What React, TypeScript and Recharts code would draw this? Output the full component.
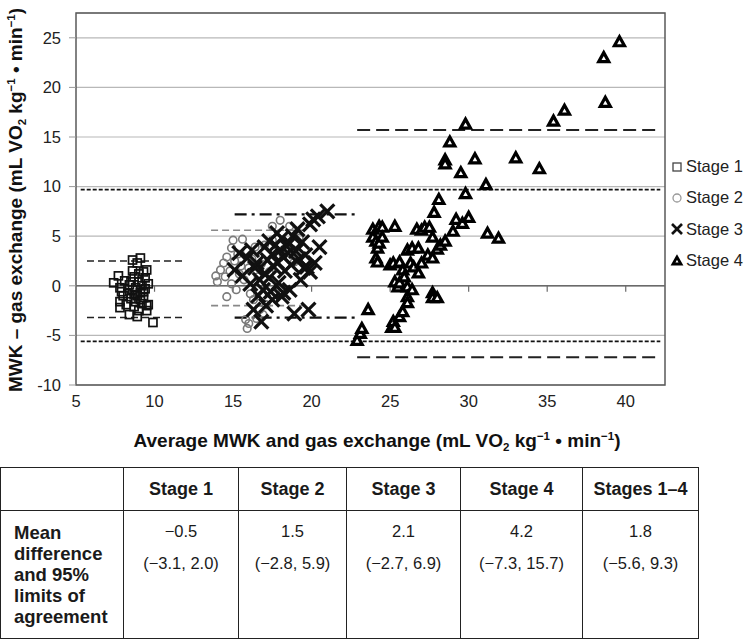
import React from "react";
import {
  ScatterChart,
  Scatter,
  XAxis,
  YAxis,
  CartesianGrid,
  ReferenceLine,
  ReferenceArea,
} from "recharts";

// --- data ---
const stage1 = [
  [7.4, 0.3], [7.7, 1.0], [7.8, -0.2], [7.9, -0.6], [7.8, -1.6], [7.8, -2.2], [8.0, -1.0], [8.1, 0.5],
  [8.2, -1.9], [8.3, -0.8], [8.4, -2.9], [8.4, 0.1], [8.5, -1.3], [8.6, 2.6], [8.6, 1.5], [8.6, -0.4],
  [8.7, -2.1], [8.7, 0.9], [8.8, -1.6], [8.8, -0.2], [8.9, 2.3], [8.9, -3.1], [8.9, -1.0], [9.0, 0.4],
  [9.0, -2.5], [9.0, 1.2], [9.1, 2.8], [9.1, -0.7], [9.2, -1.8], [9.2, 0.0], [9.3, 1.4], [9.3, -1.2],
  [9.4, -0.3], [9.4, 0.8], [9.5, 1.6], [9.5, -2.0], [9.6, -1.9], [9.6, 0.2], [9.9, -3.7], [9.5, -2.5],
  [8.7, -0.9], [9.1, -1.4], [8.5, 0.4], [9.3, -0.6],
].map(([x, y]) => ({ x, y }));

const stage2 = [
  [13.9, 1.0], [14.0, 0.4], [14.2, 1.6], [14.4, 2.3], [14.5, 0.9], [14.6, 2.9], [14.6, -1.1], [14.8, 1.5],
  [14.9, 3.8], [14.9, 0.2], [15.0, 4.6], [15.1, 2.5], [15.2, -0.4], [15.3, 3.2], [15.4, 1.2], [15.5, 2.0],
  [15.6, 4.7], [15.7, 0.6], [15.8, -3.4], [15.9, -4.3], [15.9, 3.5], [16.0, 1.8], [16.1, -0.8], [16.2, 2.7],
  [16.3, -1.4], [16.4, 3.9], [16.5, -3.3], [16.6, 0.9], [16.7, -2.4], [16.8, 2.2], [17.0, 4.1], [17.1, -1.9],
  [17.3, 1.4], [17.5, 6.0], [17.5, 4.6], [17.7, -0.6], [18.0, 6.6], [18.2, 3.1], [18.6, 6.0], [18.9, 2.4],
  [19.2, 4.8], [16.9, -2.9], [16.0, -3.8],
].map(([x, y]) => ({ x, y }));

const stage3 = [
  [15.1, 1.6], [15.4, 3.3], [15.6, 1.0], [15.9, 2.8], [16.1, 0.2], [16.2, 3.6], [16.3, -2.4], [16.4, 1.8],
  [16.5, 2.3], [16.6, -1.0], [16.7, 0.6], [16.8, -3.6], [16.9, -0.4], [17.0, 3.9], [17.0, 1.2], [17.1, -2.0],
  [17.2, 2.6], [17.3, 0.8], [17.3, 4.5], [17.4, -0.6], [17.5, -1.4], [17.5, 3.2], [17.6, 1.9], [17.7, 4.1],
  [17.8, 5.3], [17.8, 2.4], [17.9, 0.3], [18.0, 3.6], [18.1, -1.1], [18.1, 4.8], [18.2, -0.7], [18.2, 2.9],
  [18.3, 1.5], [18.4, 4.0], [18.5, 3.3], [18.6, -0.4], [18.6, 4.3], [18.7, 2.1], [18.8, 5.0], [18.9, -2.8],
  [19.0, 3.5], [19.1, 5.7], [19.2, 2.7], [19.3, 0.6], [19.4, 4.4], [19.5, 1.8], [19.6, 3.1], [19.7, 1.9],
  [19.8, -2.4], [19.9, 1.4], [19.9, 6.2], [20.1, 6.7], [20.2, 2.3], [20.4, 7.0], [20.5, 3.9], [21.0, 7.5],
].map(([x, y]) => ({ x, y }));

const stage4 = [
  [22.9, -5.5], [23.1, -4.8], [23.2, -4.3], [23.6, -2.4], [23.9, 5.7], [23.9, 4.9], [24.1, 4.5], [24.1, 2.8],
  [24.2, 3.8], [24.2, 2.4], [24.3, 6.0], [24.3, 4.3], [24.5, 5.9], [24.5, 4.9], [25.0, 2.1], [25.1, -4.2],
  [25.2, 2.3], [25.2, -3.6], [25.3, 6.0], [25.3, 0.4], [25.3, -4.2], [25.5, -0.1], [25.6, 2.4], [25.6, 0.3],
  [25.6, -3.1], [25.8, 1.6], [25.8, -2.6], [25.9, 0.9], [26.1, 3.6], [26.1, -0.1], [26.1, -1.1], [26.1, -1.7],
  [26.3, 2.3], [26.4, 3.8], [26.4, -0.4], [26.5, 1.9], [26.7, 5.7], [26.8, 3.8], [26.8, 1.3], [27.0, 5.6],
  [27.0, 2.3], [27.2, 5.9], [27.4, 3.1], [27.5, 5.9], [27.7, 4.9], [27.7, 2.8], [27.7, -0.7], [27.7, -1.2],
  [27.8, 7.4], [28.0, 3.7], [28.0, -1.2], [28.1, 8.7], [28.2, 4.1], [28.5, 4.5], [28.5, 12.7], [28.5, 12.3],
  [28.8, 14.5], [29.0, 5.5], [29.2, 6.7], [29.5, 11.4], [29.6, 6.3], [29.8, 16.3], [29.8, 9.3], [30.0, 6.9],
  [30.4, 12.8], [31.1, 10.2], [31.2, 5.3], [31.9, 4.8], [33.0, 12.9], [34.5, 11.8], [35.4, 16.6], [36.1, 17.7],
  [38.6, 23.0], [38.7, 18.5], [39.6, 24.6],
].map(([x, y]) => ({ x, y }));

const xTicks = [5, 10, 15, 20, 25, 30, 35, 40];
const yTicks = [-10, -5, 0, 5, 10, 15, 20, 25];

// limits of agreement drawn on the plot (overall, stage 1..4)
const limitNames = ["Stages 1–4", "Stage 1", "Stage 2", "Stage 3", "Stage 4"];
const limitLower = [-5.6, -3.2, -2.0, -3.2, -7.2];
const limitUpper = [9.7, 2.5, 5.6, 7.2, 15.7];
const limitFrom = [5.3, 5.7, 13.6, 15.1, 22.9];
const limitTo = [42.2, 11.9, 19.6, 22.8, 42.0];

// table
const tableHeaders = ["Stage 1", "Stage 2", "Stage 3", "Stage 4", "Stages 1–4"];
const meanDiff = ["−0.5", "1.5", "2.1", "4.2", "1.8"];
const loaText = ["(−3.1, 2.0)", "(−2.8, 5.9)", "(−2.7, 6.9)", "(−7.3, 15.7)", "(−5.6, 9.3)"];

// --- styles ---
const FONT = "'Liberation Sans', Arial, Helvetica, sans-serif";
const limitStyles = [
  { stroke: "#111", strokeWidth: 1.6, strokeDasharray: "4 2" },
  { stroke: "#222", strokeWidth: 1.6, strokeDasharray: "7 4" },
  { stroke: "#888", strokeWidth: 1.6, strokeDasharray: "7 4" },
  { stroke: "#111", strokeWidth: 2.2, strokeDasharray: "12 5 3 5" },
  { stroke: "#222", strokeWidth: 2, strokeDasharray: "13 6" },
];
const colWidths = [123, 115, 108, 114, 122, 116];

const SquareDot = (p: any) => (
  <rect x={p.cx - 4} y={p.cy - 4} width={8} height={8} fill="none" stroke="#111" strokeWidth={1.7} />
);
const CircleDot = (p: any) => (
  <circle cx={p.cx} cy={p.cy} r={3.8} fill="none" stroke="#7a7a7a" strokeWidth={1.6} />
);
const CrossDot = (p: any) => (
  <g stroke="#111" strokeWidth={3.2}>
    <line x1={p.cx - 7} y1={p.cy - 7} x2={p.cx + 7} y2={p.cy + 7} />
    <line x1={p.cx - 7} y1={p.cy + 7} x2={p.cx + 7} y2={p.cy - 7} />
  </g>
);
const TriDot = (p: any) => (
  <polygon
    points={`${p.cx},${p.cy - 5} ${p.cx - 5},${p.cy + 4} ${p.cx + 5},${p.cy + 4}`}
    fill="#fff"
    stroke="#000"
    strokeWidth={3.2}
    strokeLinejoin="miter"
  />
);

const legendItems = [
  { label: "Stage 1", icon: <rect x={3} y={4} width={8} height={8} fill="none" stroke="#444" strokeWidth={1.3} /> },
  { label: "Stage 2", icon: <circle cx={7} cy={8} r={4} fill="none" stroke="#999" strokeWidth={1.3} /> },
  {
    label: "Stage 3",
    icon: (
      <g stroke="#111" strokeWidth={2.6}>
        <line x1={2} y1={3} x2={12} y2={13} />
        <line x1={2} y1={13} x2={12} y2={3} />
      </g>
    ),
  },
  { label: "Stage 4", icon: <polygon points="7,4 3,11 11,11" fill="#fff" stroke="#000" strokeWidth={2.8} /> },
];

const sub = { fontSize: 11.5 };

export default function App() {
  return (
    <div style={{ position: "absolute", left: 0, top: 0, width: 744, height: 639, background: "#fff" }}>
      <ScatterChart width={744} height={460} margin={{ top: 13, right: 79, left: 0, bottom: 45 }}>
        <CartesianGrid horizontal vertical={false} stroke="#b8b8b8" strokeWidth={1.2} />
        <XAxis
          type="number"
          dataKey="x"
          domain={[5, 42.5]}
          ticks={xTicks}
          axisLine={false}
          tickLine={false}
          tickMargin={4}
          height={30}
          tick={{ fontSize: 16.5, fill: "#222", fontFamily: FONT }}
          allowDataOverflow
        />
        <YAxis
          type="number"
          dataKey="y"
          domain={[-10, 27.5]}
          ticks={yTicks}
          axisLine={false}
          tickLine={{ stroke: "#999" }}
          tickSize={7}
          tickMargin={8}
          width={76}
          tick={{ fontSize: 16.5, fill: "#222", fontFamily: FONT }}
          allowDataOverflow
        />
        <ReferenceLine y={0} stroke="#6a6a6a" strokeWidth={1.5} />
        {xTicks.slice(1).map((t) => (
          <ReferenceLine
            key={"tm" + t}
            segment={[{ x: t, y: 0 }, { x: t, y: -0.6 }]}
            stroke="#6a6a6a"
            strokeWidth={1.2}
          />
        ))}
        <ReferenceArea x1={5} x2={42.5} y1={-10} y2={27.5} fill="none" stroke="#5a5a5a" strokeWidth={1.5} />
        <Scatter name="Stage 1" data={stage1} shape={SquareDot} isAnimationActive={false} />
        <Scatter name="Stage 2" data={stage2} shape={CircleDot} isAnimationActive={false} />
        <Scatter name="Stage 3" data={stage3} shape={CrossDot} isAnimationActive={false} />
        <Scatter name="Stage 4" data={stage4} shape={TriDot} isAnimationActive={false} />
        {limitNames.map((n, i) =>
          [limitLower[i], limitUpper[i]].map((v, j) => (
            <ReferenceLine
              key={n + j}
              segment={[{ x: limitFrom[i], y: v }, { x: limitTo[i], y: v }]}
              {...limitStyles[i]}
            />
          ))
        )}
      </ScatterChart>

      {/* legend */}
      <div
        style={{
          position: "absolute",
          left: 670,
          top: 151,
          fontFamily: FONT,
          fontSize: 16.5,
          color: "#222",
        }}
      >
        {legendItems.map((it) => (
          <div key={it.label} style={{ display: "flex", alignItems: "center", height: 31.3 }}>
            <svg width={14} height={16} style={{ marginRight: 2 }}>
              {it.icon}
            </svg>
            <span>{it.label}</span>
          </div>
        ))}
      </div>

      <svg
        width={744}
        height={460}
        style={{ position: "absolute", left: 0, top: 0, pointerEvents: "none" }}
        fontFamily={FONT}
        fontWeight="bold"
        fill="#111"
      >
        <text x={377} y={447} fontSize={19} textAnchor="middle">
          Average MWK and gas exchange (mL VO<tspan dy={4} style={sub}>2</tspan>
          <tspan dy={-4}> kg</tspan>
          <tspan dy={-7} style={sub}>−1</tspan>
          <tspan dy={7}> • min</tspan>
          <tspan dy={-7} style={sub}>−1</tspan>
          <tspan dy={7}>)</tspan>
        </text>
        <text transform="translate(22,200) rotate(-90)" fontSize={19} textAnchor="middle">
          MWK – gas exchange (mL VO<tspan dy={4} style={sub}>2</tspan>
          <tspan dy={-4}> kg</tspan>
          <tspan dy={-7} style={sub}>−1</tspan>
          <tspan dy={7}> • min</tspan>
          <tspan dy={-7} style={sub}>−1</tspan>
          <tspan dy={7}>)</tspan>
        </text>
      </svg>

      <table
        style={{
          position: "absolute",
          left: 0,
          top: 467,
          borderCollapse: "collapse",
          fontFamily: FONT,
          color: "#1a1a1a",
          tableLayout: "fixed",
          width: 698,
        }}
      >
        <colgroup>
          {colWidths.map((w, i) => (
            <col key={i} style={{ width: w }} />
          ))}
        </colgroup>
        <tbody>
          <tr style={{ height: 43 }}>
            <td style={{ border: "1.5px solid #222" }} />
            {tableHeaders.map((h) => (
              <td
                key={h}
                style={{ border: "1.5px solid #222", textAlign: "center", fontWeight: "bold", fontSize: 18, padding: 0 }}
              >
                {h}
              </td>
            ))}
          </tr>
          <tr style={{ height: 128 }}>
            <td
              style={{
                border: "1.5px solid #222",
                verticalAlign: "top",
                fontWeight: "bold",
                fontSize: 18.5,
                lineHeight: "21px",
                padding: "11px 0 0 13px",
              }}
            >
              Mean
              <br />
              difference
              <br />
              and 95%
              <br />
              limits of
              <br />
              agreement
            </td>
            {meanDiff.map((m, i) => (
              <td
                key={i}
                style={{
                  border: "1.5px solid #222",
                  verticalAlign: "top",
                  textAlign: "center",
                  fontSize: 16.5,
                  padding: "11px 0 0 0",
                }}
              >
                <div style={{ height: 32 }}>{m}</div>
                <div>{loaText[i]}</div>
              </td>
            ))}
          </tr>
        </tbody>
      </table>
    </div>
  );
}
